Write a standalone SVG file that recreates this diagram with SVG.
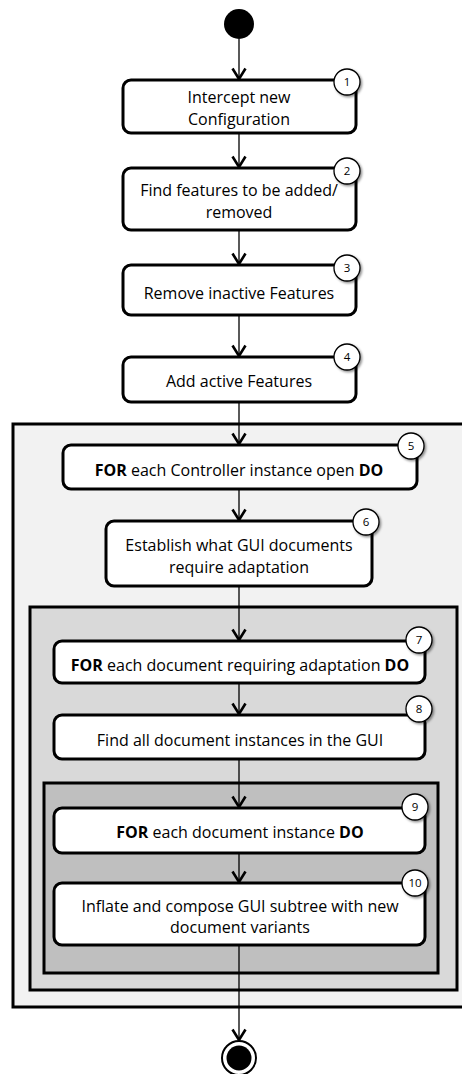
<svg xmlns="http://www.w3.org/2000/svg" width="462" height="1074" viewBox="0 0 462 1074">
<style>
.box{fill:#fff;stroke:#000;stroke-width:3}
.t{font-family:"Open Sans","Liberation Sans",sans-serif;font-size:16px;fill:#000;text-anchor:middle}
.b{font-weight:bold}
.badge{fill:#fff;stroke:#000;stroke-width:1.3}
.n{font-family:"Open Sans","Liberation Sans",sans-serif;font-size:11.5px;fill:#000;text-anchor:middle}
.c{stroke:#000;stroke-width:1.3;fill:none}
.reg{stroke:#000;stroke-width:3}
</style>
<defs>
<marker id="arr" markerWidth="14" markerHeight="16" refX="12" refY="8" orient="auto" markerUnits="userSpaceOnUse" viewBox="0 0 14 16">
<path d="M1.5,1.5 L12,8 L1.5,14.5" fill="none" stroke="#000" stroke-width="2.6"/>
</marker>
<filter id="sh" x="-50%" y="-50%" width="200%" height="200%">
<feDropShadow dx="1.5" dy="1.5" stdDeviation="1.2" flood-color="#000" flood-opacity="0.45"/>
</filter>
</defs>
<g id="regions">
<rect id="region1" class="reg" x="13" y="424" width="460" height="583" fill="#f2f2f2"/>
<rect id="region2" class="reg" x="30" y="607" width="427" height="383" fill="#d9d9d9"/>
<rect id="region3" class="reg" x="44" y="783" width="394" height="190" fill="#bfbfbf"/>
</g>
<g id="connectors">
<line class="c" x1="239" y1="39" x2="239" y2="79" marker-end="url(#arr)"/>
<line class="c" x1="239" y1="133" x2="239" y2="167" marker-end="url(#arr)"/>
<line class="c" x1="239" y1="230" x2="239" y2="264" marker-end="url(#arr)"/>
<line class="c" x1="239" y1="315" x2="239" y2="356" marker-end="url(#arr)"/>
<line class="c" x1="239" y1="402" x2="239" y2="444" marker-end="url(#arr)"/>
<line class="c" x1="239" y1="489" x2="239" y2="520" marker-end="url(#arr)"/>
<line class="c" x1="239" y1="586" x2="239" y2="640" marker-end="url(#arr)"/>
<line class="c" x1="239" y1="683" x2="239" y2="714" marker-end="url(#arr)"/>
<line class="c" x1="239" y1="759" x2="239" y2="807" marker-end="url(#arr)"/>
<line class="c" x1="239" y1="853" x2="239" y2="882" marker-end="url(#arr)"/>
<line class="c" x1="239" y1="945" x2="239" y2="1040" marker-end="url(#arr)"/>
</g>
<g id="start"><circle cx="239" cy="24" r="15" fill="#000"/></g>
<g id="end"><circle cx="239" cy="1058" r="17" fill="#fff" stroke="#000" stroke-width="2"/><circle cx="239" cy="1058" r="12.5" fill="#000"/></g>
<g id="n1"><rect class="box" x="123" y="80" width="233" height="53" rx="8"/>
<text class="t" x="239" y="103">Intercept new</text><text class="t" x="239" y="125">Configuration</text>
<circle class="badge" cx="347" cy="82" r="13" filter="url(#sh)"/><text class="n" x="347" y="86">1</text></g>
<g id="n2"><rect class="box" x="123" y="168" width="233" height="62" rx="8"/>
<text class="t" x="239" y="196">Find features to be added/</text><text class="t" x="239" y="218">removed</text>
<circle class="badge" cx="347" cy="171" r="13" filter="url(#sh)"/><text class="n" x="347" y="175">2</text></g>
<g id="n3"><rect class="box" x="123" y="265" width="233" height="50" rx="8"/>
<text class="t" x="239" y="299">Remove inactive Features</text>
<circle class="badge" cx="347" cy="268" r="13" filter="url(#sh)"/><text class="n" x="347" y="272">3</text></g>
<g id="n4"><rect class="box" x="123" y="357" width="233" height="45" rx="8"/>
<text class="t" x="239" y="387">Add active Features</text>
<circle class="badge" cx="347" cy="357" r="13" filter="url(#sh)"/><text class="n" x="347" y="361">4</text></g>
<g id="n5"><rect class="box" x="63" y="445" width="354" height="44" rx="8"/>
<text class="t" x="239" y="476"><tspan class="b">FOR</tspan> each Controller instance open <tspan class="b">DO</tspan></text>
<circle class="badge" cx="411" cy="446" r="13" filter="url(#sh)"/><text class="n" x="411" y="450">5</text></g>
<g id="n6"><rect class="box" x="106" y="521" width="266" height="65" rx="8"/>
<text class="t" x="239" y="551">Establish what GUI documents</text><text class="t" x="239" y="573">require adaptation</text>
<circle class="badge" cx="366" cy="522" r="13" filter="url(#sh)"/><text class="n" x="366" y="526">6</text></g>
<g id="n7"><rect class="box" x="54" y="641" width="371" height="42" rx="8"/>
<text class="t" x="240" y="671"><tspan class="b">FOR</tspan> each document requiring adaptation <tspan class="b">DO</tspan></text>
<circle class="badge" cx="419" cy="640" r="13" filter="url(#sh)"/><text class="n" x="419" y="644">7</text></g>
<g id="n8"><rect class="box" x="54" y="715" width="371" height="44" rx="8"/>
<text class="t" x="240" y="746">Find all document instances in the GUI</text>
<circle class="badge" cx="419" cy="709" r="13" filter="url(#sh)"/><text class="n" x="419" y="713">8</text></g>
<g id="n9"><rect class="box" x="54" y="808" width="371" height="45" rx="8"/>
<text class="t" x="240" y="838"><tspan class="b">FOR</tspan> each document instance <tspan class="b">DO</tspan></text>
<circle class="badge" cx="415" cy="807" r="13" filter="url(#sh)"/><text class="n" x="415" y="811">9</text></g>
<g id="n10"><rect class="box" x="54" y="883" width="371" height="62" rx="8"/>
<text class="t" x="240" y="912">Inflate and compose GUI subtree with new</text><text class="t" x="240" y="933">document variants</text>
<circle class="badge" cx="415" cy="883" r="13" filter="url(#sh)"/><text class="n" x="415" y="887">10</text></g>
</svg>
